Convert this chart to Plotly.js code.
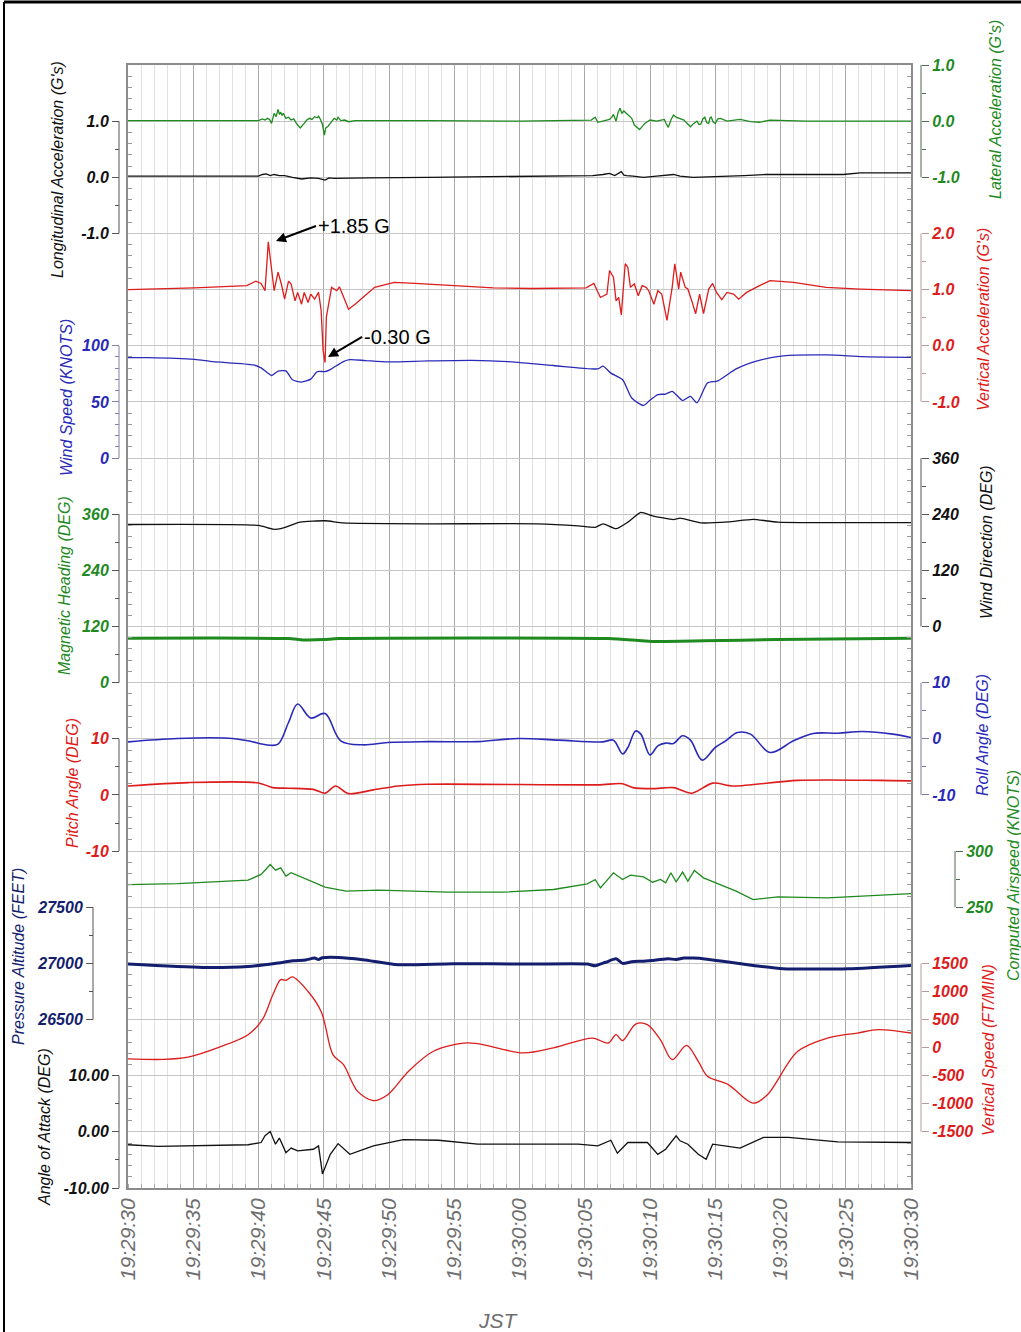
<!DOCTYPE html>
<html><head><meta charset="utf-8">
<script src="https://cdn.plot.ly/plotly-3.0.1.min.js"></script>
<style>html,body{margin:0;padding:0;background:#fff}</style>
</head><body><div id="chart" style="width:1021px;height:1332px"></div>
<script>
// ---------- time axis (seconds after 19:29:30 JST) ----------
const timeTickVals = [0,5,10,15,20,25,30,35,40,45,50,55,60];
const timeTickText = ['19:29:30','19:29:35','19:29:40','19:29:45','19:29:50','19:29:55','19:30:00','19:30:05','19:30:10','19:30:15','19:30:20','19:30:25','19:30:30'];

// ---------- Lateral acceleration (G) ----------
const latT = [0,10,10.3,10.5,10.7,10.85,11.0,11.2,11.35,11.5,
 11.6,11.7,11.8,11.9,12.1,12.3,12.5,12.7,12.9,13.2,
 13.5,13.7,13.9,14.1,14.3,14.5,14.6,14.75,14.9,15.05,
 15.15,15.3,15.5,15.65,15.8,16.0,16.1,16.3,16.6,16.9,
 17.4,23,30,35.5,35.8,36.0,36.4,36.9,37.1,37.2,
 37.4,37.55,37.7,37.85,38.0,38.2,38.4,38.6,38.8,39.2,
 39.6,40.0,40.5,41.1,41.25,41.4,41.6,41.8,42.0,42.2,
 42.6,42.8,43.1,43.35,43.6,43.75,43.9,44.05,44.2,44.35,
 44.5,44.6,44.7,44.85,45.0,45.2,45.4,45.9,46.9,47.7,
 48.4,49.2,52,60];
const latG = [0.01,0.01,0.04,0.02,0.05,0.03,-0.04,0.14,0.08,0.21,
 0.12,0.16,0.1,0.14,0.05,0.07,0.02,0.04,-0.04,-0.12,
 -0.04,0.02,0.05,0.03,0.08,0.06,0.09,0.03,-0.06,-0.25,
 -0.12,-0.1,-0.04,0.0,0.05,0.02,0.07,0.01,0.02,-0.01,
 0.01,0.01,0.0,0.02,0.07,-0.02,0.0,0.03,0.08,0.12,
 0.0,0.15,0.23,0.14,0.18,0.14,0.09,0.05,-0.07,-0.15,
 -0.04,0.02,0.0,0.03,-0.05,-0.11,0.02,0.11,0.07,0.05,
 0.02,-0.03,-0.1,-0.04,0.0,-0.06,-0.05,0.04,0.07,-0.03,
 -0.04,0.06,0.07,-0.02,-0.04,0.04,0.05,0.0,0.03,-0.01,
 -0.02,0.02,0.0,0.0];

// ---------- Longitudinal acceleration (G) ----------
const lonT = [0,10,10.3,10.6,10.9,11.2,11.6,12.0,12.6,13.3,
 14.0,14.6,15.1,15.4,15.8,16.9,18.4,23,33.1,35.6,
 36.4,36.9,37.3,37.6,37.8,38.0,38.2,38.7,39.5,40.5,
 41.8,42.3,43.3,47.2,48.9,54.8,56.1,60];
const lonG = [0.02,0.02,0.05,0.06,0.03,0.05,0.03,0.03,0.0,-0.03,
 -0.01,-0.02,-0.05,-0.01,-0.02,-0.02,-0.01,0.0,0.03,0.03,
 0.05,0.07,0.03,0.08,0.1,0.04,0.03,0.02,0.0,0.02,
 0.05,0.02,0.0,0.03,0.05,0.05,0.08,0.08];

// ---------- Vertical acceleration (G) ----------
const vacT = [0,5.1,9.1,9.8,10.2,10.5,10.75,11.0,11.2,11.5,
 11.75,12.0,12.3,12.5,12.8,13.0,13.3,13.5,13.8,14.0,
 14.3,14.6,14.8,14.95,15.1,15.2,15.4,15.6,16.0,16.2,
 16.9,17.4,18.9,20.4,22.0,25,28,31,33.1,35.1,
 35.7,36.2,36.7,36.9,37.2,37.4,37.6,37.8,38.1,38.3,
 38.5,38.8,39.1,39.4,39.7,39.9,40.3,40.6,40.9,41.3,
 41.7,41.9,42.2,42.35,42.7,42.9,43.2,43.5,43.8,44.1,
 44.5,44.8,45.1,45.5,45.9,46.4,46.8,47.4,48.4,49.2,
 51.0,53.5,56.1,60];
const vacG = [1.0,1.03,1.07,1.15,1.11,0.98,1.85,1.34,0.98,1.31,
 1.1,0.83,1.15,1.1,0.8,0.95,0.74,0.95,0.77,0.92,
 0.83,0.95,0.63,-0.09,-0.3,0.51,0.8,1.04,0.98,1.05,
 0.65,0.74,1.04,1.13,1.11,1.07,1.03,1.02,1.03,1.03,
 1.11,0.86,0.92,1.34,1.22,0.8,0.86,0.55,1.46,1.4,
 1.04,1.1,0.89,1.07,1.04,0.98,0.74,0.98,0.92,0.45,
 1.04,1.46,1.01,1.31,1.04,1.01,0.8,0.57,0.92,0.57,
 1.01,1.11,0.95,0.82,0.95,0.92,0.83,0.95,1.07,1.16,
 1.13,1.04,1.01,0.98];

// ---------- Wind speed (knots) ----------
const wsT = [0,1.5,5.1,6.5,9.6,10.2,11.0,11.5,12.1,12.6,
 13.3,14.0,14.5,15.1,15.5,16.5,17.0,18.2,19.9,23.0,
 26.4,29.1,32.6,36.0,36.4,37.0,37.9,38.6,39.5,40.0,
 40.6,41.2,41.7,42.5,43.1,43.6,44.4,45.2,46.6,48.3,
 50.2,53.6,56.3,60];
const wsKt = [89.4,89.4,87.9,85.9,83.0,80.3,73.5,77.4,77.6,69.7,
 67.6,70.3,77.0,77.0,78.8,85.9,87.6,86.8,85.6,86.5,
 87.0,85.9,82.4,79.4,81.8,75.6,69.7,53.5,46.8,51.5,
 56.5,57.0,59.4,51.2,55.0,49.1,66.8,68.8,79.4,86.8,
 90.9,91.8,90.3,89.7];

// ---------- Wind direction (deg) ----------
const wdT = [0,10,11.1,11.7,13.2,15.1,16.5,23,31.4,34.5,
 35.8,36.4,37.4,38.3,39.3,40.2,41.8,42.3,43.9,46,
 47.9,49.8,60];
const wdDeg = [218,216,208,209,223,226,221.5,219.5,219.5,215,
 212,219.5,209,223,244,236.5,228.6,231.5,221.5,223.6,
 229,223,222];

// ---------- Magnetic heading (deg) ----------
const hdgT = [0,12.3,13.4,15,16.1,36.8,39.1,40.2,44.1,49.8,60];
const hdgDeg = [95,94.3,91.4,92,94.3,94.3,90,88,89.3,92,95];

// ---------- Roll angle (deg) ----------
const rollT = [0,3.8,7.7,9.2,10.7,11.5,12.3,13.0,14.0,15.1,
 16.3,18.0,19.9,23,26.8,29.9,33,36.4,37.2,37.9,
 38.3,38.9,39.3,40.0,40.6,41.2,41.8,42.5,43.1,44.0,
 45.0,45.8,46.7,47.7,49.2,51.0,52.5,54.4,56.3,58.6,
 60];
const rollDeg = [-0.54,0.06,0.1,-0.36,-1.1,-0.95,2.9,6.2,3.7,4.5,
 -0.36,-1.07,-0.65,-0.5,-0.5,0.06,-0.24,-0.54,-0.24,-2.7,
 -1.55,1.4,0.83,-2.86,-1.25,-0.77,-0.83,0.54,-0.24,-3.8,
 -1.55,-0.36,1.13,0.83,-2.44,-0.36,0.95,1.0,1.3,0.83,
 0.24];

// ---------- Pitch angle (deg) ----------
const pitchT = [0,4.6,10.0,11.1,12.3,14.2,15.1,15.9,16.9,18.8,
 20.7,23,36,37.9,38.7,40.2,41.8,43.2,44.8,46.4,
 51.3,57.5,60];
const pitchDeg = [1.6,2.2,2.14,1.3,1.2,1.0,0.3,1.6,0.24,0.9,
 1.6,1.9,1.8,2.0,1.3,1.13,1.3,0.3,2.1,1.6,
 2.6,2.6,2.5];

// ---------- Computed airspeed (knots) ----------
const casT = [0,3.8,9.2,10.2,10.9,11.3,11.7,12.1,12.5,13.4,
 14.2,15.1,16.7,19.2,24.5,28.7,32.6,35.2,35.8,36.2,
 37.2,37.9,38.5,39.5,40.2,40.8,41.2,41.6,42.0,42.5,
 42.9,43.4,44.1,45.2,46.6,47.9,49.8,53.6,60];
const casKt = [270.2,271.1,274.1,279.2,288.1,283,285.1,277.7,280.7,276.2,
 271.7,267.9,264.3,265.2,263.4,263.4,265.8,270.8,274.7,267.3,
 280.7,274.7,278.6,277.1,272.3,274.7,271.7,280.7,272.6,281.3,
 273.2,282.7,276.2,270.8,264.3,256.8,259.2,258.3,262.2];

// ---------- Pressure altitude (ft) ----------
const altT = [0,5.7,9.2,11.5,12.6,13.6,14.3,14.6,14.9,16.1,
 18.0,20.7,24.9,30.7,35.2,35.8,36.6,37.4,37.9,38.6,
 39.5,40.5,41.4,42.0,42.6,43.3,44.2,46.0,47.9,50.2,
 55.2,60];
const altFt = [26994,26964,26973,27003,27024,27030,27047,27035,27050,27053,
 27033,26988,26997,26994,26994,26979,27010,27041,27000,27015,
 27020,27030,27041,27035,27048,27047,27040,27012,26982,26953,
 26953,26982];

// ---------- Vertical speed (ft/min) ----------
const vsT = [0,2.7,4.6,6.9,9.2,10.3,11.1,11.7,12.1,12.6,
 13.8,14.8,15.1,15.7,16.5,17.6,18.8,19.9,21.5,23.4,
 25.7,26.8,30.3,32.6,35.6,36.8,37.4,37.9,38.9,39.8,
 40.8,41.7,42.8,43.7,44.4,46.0,47.9,49.0,51.3,53.6,
 55.9,57.5,60];
const vsFpm = [-200,-210,-170,0,230,500,940,1210,1200,1260,
 1000,645,410,-125,-300,-780,-945,-840,-420,-65,
 80,70,-95,-5,170,80,230,125,420,410,
 140,-215,40,-245,-510,-660,-990,-840,-70,170,
 260,320,260];

// ---------- Angle of attack (deg) ----------
const aoaT = [0,2.3,9.2,10.2,10.5,10.9,11.3,11.6,12.1,12.5,
 13.0,14.2,14.6,14.9,15.5,16.1,17.0,18.8,21.1,23.8,
 26.8,34.5,36.0,37.0,37.5,38.3,39.8,40.6,41.2,42.0,
 42.3,42.9,43.7,44.3,44.8,46.9,48.7,50.6,54.4,60];
const aoaDeg = [-2.3,-2.6,-2.3,-1.9,-0.7,0.06,-2.2,-1.1,-3.7,-2.9,
 -3.4,-3.1,-2.5,-7.5,-4.0,-2.1,-4.0,-2.5,-1.4,-1.5,
 -2.2,-2.2,-2.5,-1.5,-3.8,-1.9,-1.9,-4.0,-3.1,-0.7,
 -1.6,-2.2,-4.0,-4.9,-2.2,-2.9,-1.0,-1.0,-1.8,-1.9];

// ---------- tick labels of each scale ----------
const lonTicks = ['1.0','0.0','-1.0'];
const latTicks = ['1.0','0.0','-1.0'];
const vacTicks = ['2.0','1.0','0.0','-1.0'];
const wsTicks = ['100','50','0'];
const wdTicks = ['360','240','120','0'];
const hdgTicks = ['360','240','120','0'];
const rollTicks = ['10','0','-10'];
const pitchTicks = ['10','0','-10'];
const casTicks = ['300','250'];
const altTicks = ['27500','27000','26500'];
const vsTicks = ['1500','1000','500','0','-500','-1000','-1500'];
const aoaTicks = ['10.00','0.00','-10.00'];

// ---------- colours ----------
const GREEN = '#1f8a1f', RED = '#dd1c1c', BLUE = '#2a2ab8', NAVY = '#141e6e', BLACK = '#111111';

// ---------- geometry (paper) ----------
const W = 1021, H = 1332, ML = 10, MR = 10, MT = 65, MB = 144;
const PW = W - ML - MR, PH = H - MT - MB;
const px = x => (x - ML) / PW;           // pixel -> paper x
const py = y => (H - MB - y) / PH;       // pixel -> paper y
const LEFTPOS = px(119), ALTPOS = px(93), RIGHTPOS = px(921), CASPOS = px(955);

const FONT = 'Liberation Sans, Arial, sans-serif';

const scales = [
 {id:'y2', vals:[1,0,-1], text:lonTicks, minor:[0.5,-0.5], range:[-18,2], side:'left', pos:LEFTPOS, color:BLACK, line:'#555', title:"Longitudinal Acceleration (G's)", tx:57, ty:170},
 {id:'y3', vals:[1,0,-1], text:latTicks, minor:[0.5,-0.5], range:[-19,1], side:'right', pos:RIGHTPOS, color:GREEN, line:'#4d6b4d', title:"Lateral Acceleration (G's)", tx:995, ty:110},
 {id:'y4', vals:[2,1,0,-1], text:vacTicks, minor:[1.5,0.5,-0.5], range:[-15,5], side:'right', pos:RIGHTPOS, color:RED, line:'#b89a9a', title:"Vertical Acceleration (G's)", tx:984, ty:320},
 {id:'y5', vals:[100,50,0], text:wsTicks, minor:[90,80,70,60,40,30,20,10], range:[-650,350], side:'left', pos:LEFTPOS, color:BLUE, line:'#8080a8', title:'Wind Speed (KNOTS)', tx:67, ty:398},
 {id:'y6', vals:[360,240,120,0], text:wdTicks, minor:[300,180,60], range:[-1200,1200], side:'right', pos:RIGHTPOS, color:BLACK, line:'#555', title:'Wind Direction (DEG)', tx:986, ty:542},
 {id:'y7', vals:[360,240,120,0], text:hdgTicks, minor:[300,180,60], range:[-1080,1320], side:'left', pos:LEFTPOS, color:GREEN, line:'#555', title:'Magnetic Heading (DEG)', tx:64, ty:586},
 {id:'y8', vals:[10,0,-10], text:rollTicks, minor:[5,-5], range:[-80,120], side:'right', pos:RIGHTPOS, color:BLUE, line:'#7a7a9a', title:'Roll Angle (DEG)', tx:982, ty:735},
 {id:'y9', vals:[10,0,-10], text:pitchTicks, minor:[5,-5], range:[-70,130], side:'left', pos:LEFTPOS, color:RED, line:'#555', title:'Pitch Angle (DEG)', tx:72, ty:783},
 {id:'y10', vals:[300,250], text:casTicks, minor:[275], range:[0,1000], side:'right', pos:CASPOS, color:GREEN, line:'#4d6b4d', title:'Computed Airspeed (KNOTS)', tx:1013, ty:875},
 {id:'y11', vals:[27500,27000,26500], text:altTicks, minor:[27250,26750], range:[25000,35000], side:'left', pos:ALTPOS, color:NAVY, line:'#555', title:'Pressure Altitude (FEET)', tx:18, ty:957},
 {id:'y12', vals:[1500,1000,500,0,-500,-1000,-1500], text:vsTicks, minor:[], range:[-2500,17500], side:'right', pos:RIGHTPOS, color:RED, line:'#b89a9a', title:'Vertical Speed (FT/MIN)', tx:988, ty:1050},
 {id:'y13', vals:[10,0,-10], text:aoaTicks, minor:[5,-5], range:[-10,190], side:'left', pos:LEFTPOS, color:BLACK, line:'#555', title:'Angle of Attack (DEG)', tx:44, ty:1127}
];

// sm: spline smoothing (0 = straight segments)
const series = [
 {x:lonT, y:lonG, ax:'y2', color:BLACK, w:1.3, sm:0, name:'Longitudinal Acceleration'},
 {x:latT, y:latG, ax:'y3', color:GREEN, w:1.3, sm:0, name:'Lateral Acceleration'},
 {x:vacT, y:vacG, ax:'y4', color:RED, w:1.3, sm:0, name:'Vertical Acceleration'},
 {x:wsT, y:wsKt, ax:'y5', color:BLUE, w:1.3, sm:0.6, name:'Wind Speed'},
 {x:wdT, y:wdDeg, ax:'y6', color:BLACK, w:1.3, sm:0.5, name:'Wind Direction'},
 {x:hdgT, y:hdgDeg, ax:'y7', color:GREEN, w:3, sm:0.6, name:'Magnetic Heading'},
 {x:rollT, y:rollDeg, ax:'y8', color:BLUE, w:1.6, sm:1.0, name:'Roll Angle'},
 {x:pitchT, y:pitchDeg, ax:'y9', color:RED, w:1.6, sm:0.8, name:'Pitch Angle'},
 {x:casT, y:casKt, ax:'y10', color:GREEN, w:1.3, sm:0, name:'Computed Airspeed'},
 {x:altT, y:altFt, ax:'y11', color:NAVY, w:3, sm:0.6, name:'Pressure Altitude'},
 {x:vsT, y:vsFpm, ax:'y12', color:RED, w:1.3, sm:0.9, name:'Vertical Speed'},
 {x:aoaT, y:aoaDeg, ax:'y13', color:BLACK, w:1.3, sm:0, name:'Angle of Attack'}
];

// base (grid) subplot needs a trace so that the overlaid scales share one plot area
const traces = [{type:'scatter', mode:'none', x:[timeTickVals[0]], y:[null], xaxis:'x', yaxis:'y', hoverinfo:'skip', showlegend:false}];
series.forEach(s => traces.push({
  type:'scatter', mode:'lines', x:s.x, y:s.y, xaxis:'x', yaxis:s.ax, name:s.name,
  line: s.sm > 0 ? {color:s.color, width:s.w, shape:'spline', smoothing:s.sm} : {color:s.color, width:s.w},
  hoverinfo:'x+y', showlegend:false
}));

const layout = {
  width:W, height:H, margin:{l:ML, r:MR, t:MT, b:MB},
  paper_bgcolor:'#fff', plot_bgcolor:'#fff', showlegend:false,
  font:{family:FONT},
  xaxis:{
    domain:[px(128), px(911)], range:[0,60], tickmode:'array', tickvals:timeTickVals, ticktext:timeTickText,
    tickangle:-90, tickfont:{family:FONT, size:21, color:'#6e6e6e', style:'italic'},
    showgrid:true, gridcolor:'#a9a9a9', gridwidth:1, zeroline:false,
    minor:{dtick:1, tick0:0, showgrid:true, gridcolor:'#e1e1e1', ticks:'inside', ticklen:4, tickcolor:'#aaa'},
    showline:true, mirror:true, linecolor:'#8c8c8c', linewidth:2, ticks:'', automargin:false
  },
  yaxis:{
    range:[-20,0], tickmode:'linear', tick0:0, dtick:1, showticklabels:false, ticks:'',
    showgrid:true, gridcolor:'#c6c6c6', gridwidth:1, zeroline:false,
    minor:{dtick:0.2, tick0:0, ticks:'inside', ticklen:4, tickcolor:'#9a9a9a', showgrid:false},
    showline:true, mirror:'ticks', linecolor:'#8c8c8c', linewidth:2, automargin:false
  },
  annotations:[], shapes:[]
};

scales.forEach(s => {
  const key = 'yaxis' + s.id.slice(1);
  layout[key] = {
    overlaying:'y', anchor:'free', position:s.pos, side:s.side, range:s.range,
    tickmode:'array', tickvals:s.vals, ticktext:s.text, ticks:'outside', ticklen:7, tickwidth:1, tickcolor:s.line,
    minor:{tickmode:'array', tickvals:s.minor, ticks:'outside', ticklen:4, tickwidth:1, tickcolor:s.line, showgrid:false},
    tickfont:{family:FONT, size:16, color:s.color, style:'italic', weight:'bold'},
    showgrid:false, zeroline:false, showline:false, automargin:false, fixedrange:true
  };
  layout.shapes.push({type:'line', xref:'paper', yref:s.id, x0:s.pos, x1:s.pos,
    y0:Math.min(...s.vals), y1:Math.max(...s.vals), line:{color:s.line, width:1}});
  layout.annotations.push({xref:'paper', yref:'paper', x:px(s.tx), y:py(s.ty), text:s.title,
    showarrow:false, textangle:-90, xanchor:'center', yanchor:'middle',
    font:{family:FONT, size:16, color:s.color, style:'italic'}});
});

// callouts on vertical acceleration
layout.annotations.push({xref:'x', yref:'y4', x:11.34, y:1.866, ax:40, ay:-15, text:'+1.85 G',
  showarrow:true, arrowhead:2, arrowsize:1, arrowwidth:2, arrowcolor:'#000', xanchor:'left', yanchor:'middle',
  font:{family:FONT, size:20, color:'#000'}});
layout.annotations.push({xref:'x', yref:'y4', x:15.33, y:-0.2, ax:34, ay:-20, text:'-0.30 G',
  showarrow:true, arrowhead:2, arrowsize:1, arrowwidth:2, arrowcolor:'#000', xanchor:'left', yanchor:'middle',
  font:{family:FONT, size:20, color:'#000'}});

// x axis title
layout.annotations.push({xref:'paper', yref:'paper', x:px(498), y:py(1320), text:'JST', showarrow:false,
  xanchor:'center', yanchor:'middle', font:{family:FONT, size:21, color:'#6e6e6e', style:'italic'}});

// outer frame (top and left edge of the figure)
layout.shapes.push({type:'line', xref:'paper', yref:'paper', x0:px(4), x1:px(1030), y0:py(2), y1:py(2), line:{color:'#000', width:3}});
layout.shapes.push({type:'line', xref:'paper', yref:'paper', x0:px(4), x1:px(4), y0:py(2), y1:py(1340), line:{color:'#000', width:2}});

Plotly.newPlot('chart', traces, layout, {staticPlot:true, displayModeBar:false});
</script>
</body></html>
